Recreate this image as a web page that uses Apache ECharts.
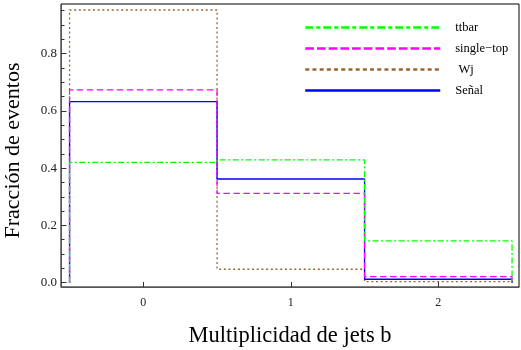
<!DOCTYPE html>
<html><head><meta charset="utf-8">
<script src="https://cdn.jsdelivr.net/npm/echarts@6/dist/echarts.min.js"></script>
<style>html,body{margin:0;padding:0;background:#fff}#c{width:521px;height:350px}</style>
</head><body><div id="c"></div>
<script>
// Data
const binEdges = [-0.5, 0.5, 1.5, 2.5];
const xTickValues = [0, 1, 2];
const yMajorTicks = [0, 0.2, 0.4, 0.6, 0.8];
const yMinorTicks = [0, 0.05, 0.1, 0.15, 0.2, 0.25, 0.3, 0.35, 0.4, 0.45, 0.5, 0.55, 0.6, 0.65, 0.7, 0.75, 0.8, 0.85, 0.9, 0.95];
const ttbar = [0.420, 0.429, 0.146];
const singleTop = [0.673, 0.312, 0.021];
const wj = [0.952, 0.047, 0.004];
const senal = [0.632, 0.362, 0.012];

function steps(vals) {
  const pts = [[binEdges[0], 0]];
  for (let i = 0; i < vals.length; i++) {
    pts.push([binEdges[i], vals[i]]);
    pts.push([binEdges[i + 1], vals[i]]);
  }
  pts.push([binEdges[binEdges.length - 1], 0]);
  return pts;
}

const serif = '"Liberation Serif","DejaVu Serif",serif';
const chart = echarts.init(document.getElementById('c'), null, {renderer: 'canvas'});
function mk(name, vals, color, type) {
  return {
    name: name, type: 'line', data: steps(vals), symbol: 'none', showSymbol: false, animation: false,
    xAxisIndex: 0, yAxisIndex: 0,
    lineStyle: {color: color, width: 1.3, type: type}, itemStyle: {color: color}
  };
}
const xMin = -0.558, xMax = 2.547, yMin = -0.015, yMax = 0.973;
const gridPos = {left: 61, top: 4, right: 2, bottom: 63, outerBoundsMode: 'none', containLabel: false};
chart.setOption({
  animation: false,
  grid: [
    Object.assign({show: true, borderColor: '#000', borderWidth: 1}, gridPos),
    Object.assign({show: false}, gridPos)
  ],
  legend: {
    orient: 'vertical', left: 304, top: 21, padding: 0, itemWidth: 135, itemHeight: 12, itemGap: 8,
    data: [
      {name: 'ttbar', lineStyle: {width: 2.5, type: [8, 3, 4, 3]}},
      {name: 'single\u2212top', lineStyle: {width: 2.5, type: [8.7, 3]}},
      {name: ' Wj', lineStyle: {width: 2.5, type: [4, 3.2]}},
      {name: 'Señal', lineStyle: {width: 2.5, type: 'solid'}}
    ],
    itemStyle: {opacity: 0},
    textStyle: {fontFamily: serif, fontSize: 12.5, color: '#000', padding: [0, 0, 0, 10]}
  },
  xAxis: [{
    gridIndex: 0, type: 'value', min: xMin, max: xMax,
    name: 'Multiplicidad de jets b', nameLocation: 'middle', nameGap: 38,
    nameTextStyle: {fontFamily: serif, fontSize: 22.5, color: '#000'},
    axisLine: {onZero: false, lineStyle: {color: '#555', width: 1}},
    axisTick: {show: true, inside: true, length: 5, customValues: xTickValues, lineStyle: {color: '#333', width: 1}},
    axisLabel: {customValues: xTickValues, fontFamily: serif, fontSize: 12, color: '#222', margin: 10},
    splitLine: {show: false}
  }, {
    gridIndex: 1, type: 'value', min: xMin, max: xMax, show: false
  }],
  yAxis: [{
    gridIndex: 0, type: 'value', min: yMin, max: yMax,
    name: 'Fracción de eventos', nameLocation: 'middle', nameGap: 37, nameRotate: 90,
    nameTextStyle: {fontFamily: serif, fontSize: 22, color: '#000', padding: [0, 10, 0, 0]},
    axisLine: {onZero: false, lineStyle: {color: '#555', width: 1}},
    axisTick: {show: true, inside: true, length: 3.5, customValues: yMinorTicks, lineStyle: {color: '#333', width: 1}},
    axisLabel: {customValues: yMajorTicks, fontFamily: serif, fontSize: 13, color: '#222', margin: 4,
      formatter: v => v.toFixed(1)},
    splitLine: {show: false}
  }, {
    gridIndex: 1, type: 'value', min: yMin, max: yMax, position: 'left',
    axisLine: {show: true, onZero: false, lineStyle: {color: '#555', width: 1}},
    axisTick: {show: true, inside: true, length: 5.5, customValues: yMajorTicks, lineStyle: {color: '#333', width: 1}},
    axisLabel: {show: false}, splitLine: {show: false}
  }],
  series: [
    mk(' Wj', wj, '#996633', [2, 2.7]),
    mk('Señal', senal, '#0000ff', 'solid'),
    mk('single\u2212top', singleTop, '#ff00ff', [6.5, 3.5]),
    mk('ttbar', ttbar, '#00ff00', [6, 2.5, 2, 2.5])
  ]
});
</script></body></html>
